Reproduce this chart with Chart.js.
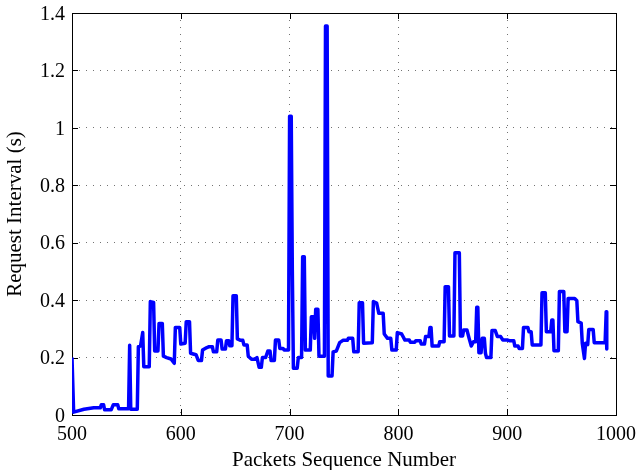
<!DOCTYPE html>
<html><head><meta charset="utf-8">
<script src="https://cdn.jsdelivr.net/npm/chart.js@4/dist/chart.umd.min.js"></script>
<style>html,body{margin:0;padding:0;background:#fff}</style>
</head><body>
<canvas id="c" width="639" height="470"></canvas>
<script>
const packetNumbers = [500,501.5,511,520,526,527,529,530,536,538,542,543,552,553,554,560,561,563,565,566,571,572,575,576,579,580,583,584,587,591,594,595,599,600,604,605,608,609,614,616,619,620,624,626,629,630,633,634,637,638,641,642,644,645,647,648,651,652,655,657,658,661,662,665,668,670,672,674,675,678,680,682,683,686,687,690,691,694,695,699,700,701.5,702.5,703.5,707,708,711,712,713.5,714.5,719,720,722,723,724,726,727,732,733,734.5,735.5,739,740,743,746,749,753,754,758,759,763,764,767,768,776,777,780,782,786,787,790,793,794,798,799,803,806,810,811,815,816,820,821,824,825,828,829,830,831,837,838,842,843,846,847,851,852,856,857,859,860,863,865,867,869,871,872,873,874,876,877,879,880,881,885,886,889,891,894,896,900,902,906,907,910,911,914,915,919,920,922,923,931,932,935,936,940,941,942,943,947,948,952,953,955,956,962,964,965,968,969,971,972,974,975,979,980,990,991,991.5];
const requestIntervals = [0.20,0.01,0.02,0.025,0.025,0.036,0.036,0.018,0.018,0.036,0.036,0.022,0.022,0.243,0.02,0.02,0.238,0.24,0.287,0.168,0.168,0.395,0.392,0.223,0.223,0.319,0.319,0.205,0.2,0.195,0.18,0.305,0.305,0.247,0.25,0.325,0.325,0.215,0.21,0.19,0.19,0.226,0.235,0.238,0.238,0.22,0.22,0.261,0.261,0.23,0.23,0.259,0.259,0.241,0.241,0.415,0.415,0.265,0.26,0.26,0.244,0.244,0.205,0.194,0.194,0.2,0.166,0.166,0.2,0.2,0.223,0.223,0.19,0.19,0.261,0.261,0.232,0.232,0.226,0.226,1.04,1.04,0.505,0.163,0.163,0.2,0.2,0.551,0.551,0.226,0.226,0.342,0.342,0.267,0.368,0.368,0.205,0.205,1.355,1.355,0.136,0.136,0.22,0.223,0.252,0.26,0.26,0.267,0.267,0.22,0.22,0.391,0.391,0.25,0.252,0.395,0.39,0.354,0.354,0.282,0.267,0.267,0.226,0.226,0.287,0.282,0.261,0.261,0.253,0.253,0.259,0.259,0.247,0.247,0.273,0.273,0.305,0.305,0.24,0.24,0.255,0.255,0.447,0.447,0.275,0.275,0.565,0.565,0.275,0.275,0.296,0.296,0.267,0.24,0.255,0.255,0.375,0.375,0.217,0.217,0.267,0.267,0.215,0.2,0.2,0.294,0.294,0.273,0.273,0.261,0.261,0.259,0.259,0.24,0.24,0.232,0.232,0.305,0.305,0.29,0.29,0.244,0.244,0.426,0.426,0.29,0.29,0.331,0.331,0.224,0.224,0.43,0.43,0.29,0.29,0.406,0.406,0.398,0.325,0.32,0.25,0.197,0.25,0.245,0.298,0.298,0.252,0.252,0.36,0.23];
const xTickValues = [500,600,700,800,900,1000];
const yTickValues = [0,0.2,0.4,0.6,0.8,1,1.2,1.4];
const xTitle = 'Packets Sequence Number';
const yTitle = 'Request Interval (s)';

const FONT = "'Liberation Serif', 'Times New Roman', serif";

const boxPlugin = {
  id: 'box',
  beforeDatasetsDraw(chart) {
    const {ctx, chartArea: a, scales} = chart;
    ctx.save();
    ctx.strokeStyle = '#000';
    ctx.lineWidth = 1;
    ctx.strokeRect(Math.round(a.left) + 0.5, Math.round(a.top) + 0.5, Math.round(a.right - a.left), Math.round(a.bottom - a.top));
    ctx.beginPath();
    const L = 6;
    scales.x.ticks.forEach(t => {
      const px = Math.round(scales.x.getPixelForValue(t.value)) + 0.5;
      ctx.moveTo(px, a.bottom); ctx.lineTo(px, a.bottom - L);
      ctx.moveTo(px, a.top); ctx.lineTo(px, a.top + L);
    });
    scales.y.ticks.forEach(t => {
      const py = Math.round(scales.y.getPixelForValue(t.value)) + 0.5;
      ctx.moveTo(a.left, py); ctx.lineTo(a.left + L, py);
      ctx.moveTo(a.right, py); ctx.lineTo(a.right - L, py);
    });
    ctx.stroke();
    ctx.restore();
  }
};

new Chart(document.getElementById('c'), {
  type: 'line',
  data: {
    datasets: [{
      data: packetNumbers.map((x, i) => ({x, y: requestIntervals[i]})),
      borderColor: '#0000ff',
      borderWidth: 3.5,
      pointRadius: 0,
      tension: 0,
      fill: false,
      borderJoinStyle: 'round'
    }]
  },
  options: {
    responsive: false,
    devicePixelRatio: 1,
    animation: false,
    layout: {padding: {left: 0, right: 23, top: 13, bottom: 0}},
    plugins: {legend: {display: false}, tooltip: {enabled: false}},
    scales: {
      x: {
        type: 'linear', min: 500, max: 1000,
        afterBuildTicks: s => { s.ticks = xTickValues.map(v => ({value: v})); },
        afterFit: s => { s.height = 55; s.paddingLeft = 0; s.paddingRight = 0; },
        grid: {color: 'rgba(0,0,0,0.55)', lineWidth: 1, drawTicks: false},
        border: {display: false, dash: [1, 6]},
        ticks: {color: '#000', font: {family: FONT, size: 20}, padding: 8, maxRotation: 0, callback: v => String(v)},
        title: {display: true, text: xTitle, color: '#000', font: {family: FONT, size: 21, lineHeight: 0.95}, padding: {top: 0, bottom: 0}}
      },
      y: {
        type: 'linear', min: 0, max: 1.4,
        afterBuildTicks: s => { s.ticks = yTickValues.map(v => ({value: v})); },
        afterFit: s => { s.width = 72; s.paddingTop = 0; s.paddingBottom = 0; },
        grid: {color: 'rgba(0,0,0,0.55)', lineWidth: 1, drawTicks: false},
        border: {display: false, dash: [1, 6]},
        ticks: {color: '#000', font: {family: FONT, size: 20}, padding: 7, labelOffset: 1.5, callback: v => String(+v.toFixed(1))},
        title: {display: true, text: yTitle, color: '#000', font: {family: FONT, size: 21, lineHeight: 1.2}, padding: {top: 3, bottom: 0}}
      }
    }
  },
  plugins: [boxPlugin]
});
</script>
</body></html>
